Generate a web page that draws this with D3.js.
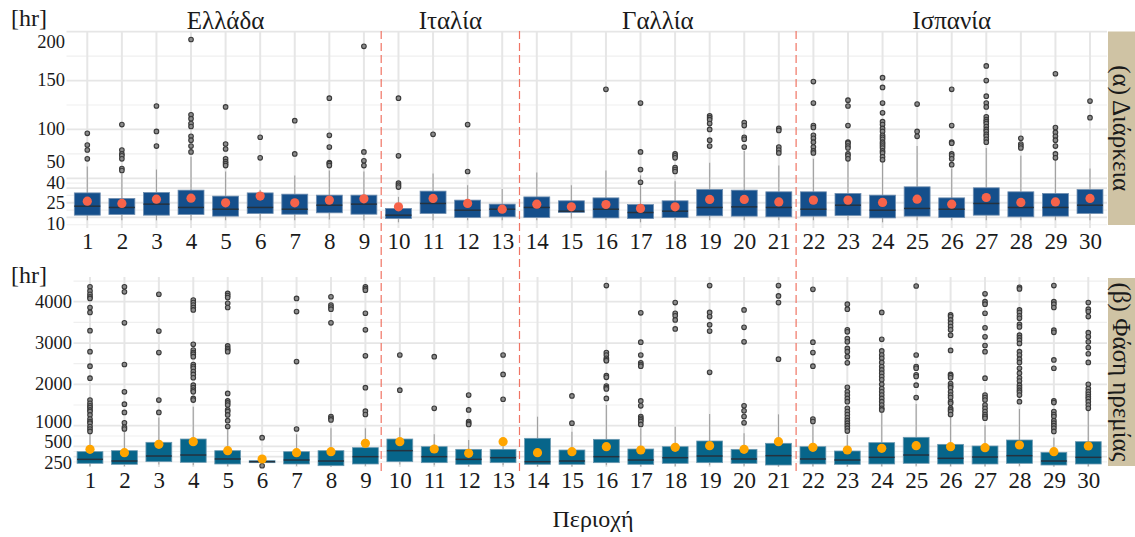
<!DOCTYPE html>
<html>
<head>
<meta charset="utf-8">
<script src="https://cdn.jsdelivr.net/npm/d3@7"></script>
<style>
  body { margin: 0; background: #ffffff; }
  svg { display: block; }
  text { font-family: "Liberation Serif", "DejaVu Serif", serif; fill: #1a1a1a; }
</style>
</head>
<body>
<svg id="chart" width="1135" height="537"></svg>
<script>
// ---- categories -------------------------------------------------------
const regions = ["1","2","3","4","5","6","7","8","9","10","11","12","13","14","15",
                 "16","17","18","19","20","21","22","23","24","25","26","27","28","29","30"];
const countryNames = ["Ελλάδα", "Ιταλία", "Γαλλία", "Ισπανία"];
const countryFirst = ["1", "10", "14", "22"];
const countryLast  = ["9", "13", "21", "30"];

// ---- (α) duration [hr] -------------------------------------------------
const durTicks = [10, 25, 40, 50, 100, 150, 200];
const durLow  = [7,7,7,7,7,7,7,8,7,5, 7,7,7,7,9,7,5,7,7,7, 7,7,7,5,7,7,7,7,7,7];
const durQ1   = [12.3,13,12.3,13,11.3,14,13.3,14.7,13.3,8.9, 14,9.9,10.6,9.9,15,9.5,8.9,9.9,11.6,11.3,
                 10.6,11.3,12,9.5,11.3,9.9,12.3,10.6,11.3,14];
const durMed  = [21.5,20.2,23.6,20.2,18.4,20.2,18.4,22.5,23.6,12.3, 24.3,17.4,18.4,20.2,16.4,18.4,15,16.4,20.2,20.8,
                 20.2,18.4,22.5,17.4,19.2,18.4,24.3,20.2,20.2,22.5];
const durQ3   = [35.1,29.4,35.5,37.9,31.8,35.1,33.8,32.8,32.8,19.2, 36.9,27.7,23.6,31,27,30,23.2,27,38.6,37.9,
                 36.2,36.2,34.5,32.8,41.3,30,40.3,36.2,34.5,38.6];
const durHigh = [62,55,59,72,57,38,53,58,57,31, 55,43,39,56,43,58,53,47,66,78, 63,70,69,68,83,60,81,73,74,60];
const durMean = [26.6,24.3,28.7,29.7,24.9,31.8,24.9,27.7,29,20.8, 29.4,24.3,18.4,23.6,20.8,23.2,19.2,20.8,28.4,28.4,
                 25.9,27.7,27.7,25.3,28.7,23.6,30.4,25.3,25.9,29.4];
const durOutliers = [
  [96,84,79,70],
  [105,79,75,73,70,60,58],
  [124,98,83],
  [192,115,111,106,103,93,89,83,77],
  [123,85,80,70,67,65,63],
  [92,71],
  [109,75],
  [132,94,82,66,65,63],
  [185,77,68,63],
  [132,73,45,43,41],
  [95],
  [105,57],
  [],
  [],
  [],
  [141],
  [127,77,59,46],
  [75,73,71,61,59,57],
  [114,112,110,106,100,89,83],
  [107,104,92,90,82],
  [101,99,82,79,76],
  [149,127,104,102,94,91,87,82,78,76],
  [130,124,104,87,86,83,81,75,73,70],
  [153,143,127,117,108,105,101,98,94,92,90,87,85,83,81,78,76,72,69],
  [126,98,93],
  [141,104,87,86,75,73,70,64],
  [165,150,134,127,123,113,110,108,106,103,100,98,95,93,90,87],
  [91,85,83,81],
  [157,102,97,93,89,83,75,71],
  [129,112]
];

// ---- (β) rest phase [hr] -----------------------------------------------
const restTicks = [250, 500, 1000, 2000, 3000, 4000];
const restLow  = [20,20,60,40,20,80,30,10,30,60, 40,10,40,10,10,40,10,20,40,30, 10,20,10,20,30,20,20,30,10,20];
const restQ1   = [89,65,129,113,73,105,73,32,73,129, 105,65,105,65,65,105,65,89,105,89, 48,73,65,73,89,73,73,89,48,73];
const restMed  = [185,145,266,290,194,129,169,145,250,395, 250,185,226,129,145,250,169,226,266,194,
                  274,194,169,234,290,210,242,274,145,234];
const restQ3   = [371,395,597,677,395,153,371,395,468,677, 492,427,427,694,411,669,435,492,629,427,
                  573,492,387,589,718,548,508,653,355,613];
const restHigh = [800,850,1200,1460,935,170,790,935,935,952, 790,653,520,1218,855,1500,935,976,1282,815,
                  1274,1016,774,1339,1524,1234,1016,1403,710,1435];
const restMean = [427,347,548,613,395,194,347,371,573,613, 435,331,613,347,371,492,411,476,516,427,
                  613,476,411,452,516,492,468,532,371,508];
const restOutliers = [
  [4360,4260,4180,4120,4080,3860,3740,3300,2790,2440,2150,1620,1540,1480,1440,1380,1340,1260,1160,1100,1060,980,920,860],
  [4360,4240,3490,2480,1820,1520,1320,1070,960,920],
  [4180,3290,2770,1620,1320],
  [4040,3980,3920,3860,3800,2970,2830,2770,2730,2670,2480,2430,2390,2310,2240,2160,1980,1920,1860,1820,1660,1620],
  [4200,4150,4100,3960,3860,2930,2870,2830,2790,1780,1600,1550,1500,1380,1340,1260,1120,980],
  [710,30],
  [4080,3760,2550,920],
  [4120,3920,3870,3820,3490,1220,1180,1140],
  [4360,4320,4280,3720,3320,2690,1920,1350,1270],
  [2710,1860],
  [2670,1420],
  [1740,1380,1100,1060,1030],
  [2710,2240,1640],
  [],
  [1720,1060],
  [4390,2770,2710,2630,2590,2570,2210,2170,1960,1920,1890,1660],
  [3730,3020,2710,2520,2480,2440,1600,1480,1220,1180,1140,1100,1030],
  [3980,3720,3660,3560,3340],
  [4390,3740,3640,3440,3290,2290],
  [3800,3380,3030,1480,1360,1220,1070],
  [4390,4140,3980,2610],
  [4300,3020,2770,2440,1160,1100],
  [3940,3820,3320,3270,3110,3030,2870,2790,2670,2520,1930,1820,1740,1660,1580,1420,1340,1270,1190,1120,1060,1000,940,870],
  [3740,3090,2810,2710,2630,2530,2430,2350,2270,2190,2110,2000,1900,1820,1740,1660,1580,1500,1420,1380],
  [4380,2710,2430,2390,2230,2190,1980,1680],
  [3680,3640,3560,3480,3400,3320,3190,2820,2240,2210,2160,2020,1960,1920,1820,1740,1680,1580,1540,1420,1380,1340,1270],
  [4190,4000,3940,3720,3370,3150,2940,2790,2150,1740,1680,1620,1500,1420,1340,1270,1220,1180],
  [4350,4310,3800,3740,3660,3600,3450,3390,3190,3130,3070,2990,2790,2710,2610,2530,2390,2270,2160,2080,1980,1920,1860,1810,1740,1580],
  [4390,4000,3940,3860,3310,3260,2590,2390,1600,1560,1340,1270,1220,1120,1060,1000,940,860],
  [3980,3820,3760,3640,3250,3150,3030,2890,2740,2530,2000,1900,1820,1760,1700,1650,1580,1500,1420]
];

// ---- drawing -----------------------------------------------------------
const svg = d3.select("#chart");
const gridMajor = "#e6e6e6", gridMinor = "#efefef";
const stripFill = "#cfc3a4";
const yLabelSize = 18.5, yLabelGap = 20.5;

// Spread label centres (sorted top to bottom) so neighbours keep a minimum gap,
// merging crowded labels into clusters centred on their ideal positions.
function spreadLabels(ideal, gap, lo, hi) {
  const clusters = [];
  ideal.forEach(v => {
    clusters.push({ n: 1, mean: v });
    while (clusters.length > 1) {
      const b = clusters[clusters.length - 1], a = clusters[clusters.length - 2];
      const aEnd = a.mean + (a.n - 1) * gap / 2;
      const bStart = b.mean - (b.n - 1) * gap / 2;
      if (bStart - aEnd >= gap) break;
      const n = a.n + b.n;
      clusters.splice(-2, 2, { n, mean: (a.mean * a.n + b.mean * b.n) / n });
    }
  });
  const pos = [];
  clusters.forEach(c => { for (let k = 0; k < c.n; k++) pos.push(c.mean - (c.n - 1) * gap / 2 + k * gap); });
  for (let i = 0; i < pos.length; i++) pos[i] = Math.max(pos[i], i ? pos[i - 1] + gap : lo);
  for (let i = pos.length - 1; i >= 0; i--) pos[i] = Math.min(pos[i], i < pos.length - 1 ? pos[i + 1] - gap : hi);
  return pos;
}

function drawPanel(p) {
  const g = svg.append("g");
  const x = d3.scalePoint().domain(regions).range(p.xRange);
  const y = d3.scaleLinear().domain(p.yDomain).range(p.yRange);
  const [top, bottom] = p.box;

  // horizontal gridlines: majors at the ticks, minors half-way between
  const step0 = p.ticks[1] - p.ticks[0];
  const stepN = p.ticks[p.ticks.length - 1] - p.ticks[p.ticks.length - 2];
  const minors = d3.pairs(p.ticks).map(([a, b]) => (a + b) / 2)
    .concat([p.ticks[0] - step0 / 2, p.ticks[p.ticks.length - 1] + stepN / 2])
    .filter(v => y(v) >= top && y(v) <= bottom);
  g.selectAll("line.minor").data(minors).join("line")
    .attr("x1", p.left).attr("x2", p.right)
    .attr("y1", d => y(d)).attr("y2", d => y(d))
    .attr("stroke", gridMinor).attr("stroke-width", 1.2);
  g.selectAll("line.major").data(p.ticks).join("line")
    .attr("x1", p.left).attr("x2", p.right)
    .attr("y1", d => y(d)).attr("y2", d => y(d))
    .attr("stroke", gridMajor).attr("stroke-width", 1.8);
  g.selectAll("line.vgrid").data(regions).join("line")
    .attr("x1", d => x(d)).attr("x2", d => x(d))
    .attr("y1", top).attr("y2", bottom)
    .attr("stroke", gridMajor).attr("stroke-width", 2);

  // boxplots
  const bw = x.step() * 0.75;
  const rows = regions.map((r, i) => ({
    r, lo: p.low[i], q1: p.q1[i], med: p.med[i], q3: p.q3[i], hi: p.high[i],
    mean: p.mean[i], out: p.outliers[i]
  }));
  const bx = g.selectAll("g.box").data(rows).join("g").attr("class", "box");
  bx.append("line")
    .attr("x1", d => x(d.r)).attr("x2", d => x(d.r))
    .attr("y1", d => y(d.q3)).attr("y2", d => y(d.hi))
    .attr("stroke", "#a0a0a0").attr("stroke-width", 1.1);
  bx.append("line")
    .attr("x1", d => x(d.r)).attr("x2", d => x(d.r))
    .attr("y1", d => y(d.q1)).attr("y2", d => y(d.lo))
    .attr("stroke", "#a0a0a0").attr("stroke-width", 1.1);
  bx.append("rect")
    .attr("x", d => x(d.r) - bw / 2).attr("width", bw)
    .attr("y", d => y(d.q3)).attr("height", d => y(d.q1) - y(d.q3))
    .attr("fill", p.boxFill).attr("stroke", p.boxStroke).attr("stroke-width", 0.8);
  bx.append("line")
    .attr("x1", d => x(d.r) - bw / 2).attr("x2", d => x(d.r) + bw / 2)
    .attr("y1", d => y(d.med)).attr("y2", d => y(d.med))
    .attr("stroke", "#24323f").attr("stroke-width", 1.5);
  bx.selectAll("circle.out").data(d => d.out.map(v => ({ r: d.r, v }))).join("circle")
    .attr("cx", d => x(d.r)).attr("cy", d => y(d.v)).attr("r", 2.3)
    .attr("fill", "#8c8c8c").attr("stroke", "#3a3a3a").attr("stroke-width", 1.1);
  bx.append("circle")
    .attr("cx", d => x(d.r)).attr("cy", d => y(d.mean)).attr("r", 4.6)
    .attr("fill", p.meanFill);

  // y axis
  const ya = g.append("g").attr("transform", `translate(${p.labelX},0)`)
    .call(d3.axisLeft(y).tickValues(p.ticks).tickSize(0).tickPadding(0).tickFormat(d3.format("d")));
  ya.select(".domain").remove();
  ya.selectAll("text").attr("font-size", yLabelSize).attr("font-family", "Liberation Serif").attr("fill", "#1a1a1a");
  const ticks = ya.selectAll(".tick").nodes()
    .map(n => ({ n, pos: y(d3.select(n).datum()) }))
    .sort((a, b) => a.pos - b.pos);
  const spread = spreadLabels(ticks.map(t => t.pos), yLabelGap, top + 11, bottom - 4);
  ticks.forEach((t, i) => d3.select(t.n).attr("transform", `translate(0,${spread[i]})`));

  // x axis
  const xa = g.append("g").attr("transform", `translate(0,${bottom})`)
    .call(d3.axisBottom(x).tickSize(0).tickPadding(5));
  xa.select(".domain").remove();
  xa.selectAll("text").attr("font-size", 23).attr("font-family", "Liberation Serif").attr("fill", "#1a1a1a");

  // unit label
  g.append("text").attr("x", 11).attr("y", p.unitY).attr("font-size", 24).text("[hr]");

  // facet strip
  svg.append("rect").attr("x", p.stripX).attr("y", p.stripBox[0])
    .attr("width", 1135 - p.stripX).attr("height", p.stripBox[1] - p.stripBox[0]).attr("fill", stripFill);
  svg.append("text")
    .attr("transform", `translate(${(p.stripX + 1135) / 2},${(p.stripBox[0] + p.stripBox[1]) / 2}) rotate(90)`)
    .attr("text-anchor", "middle").attr("dominant-baseline", "central")
    .attr("font-size", 25).text(p.strip);

  return x;
}

const xTop = drawPanel({
  left: 66.5, right: 1107, box: [31, 228], xRange: [87.3, 1090],
  yDomain: [0, 200], yRange: [227.2, 31.7], ticks: durTicks, labelX: 65,
  low: durLow, q1: durQ1, med: durMed, q3: durQ3, high: durHigh, mean: durMean, outliers: durOutliers,
  boxFill: "#154f8b", boxStroke: "#6f8eb0", meanFill: "#f7634a",
  unitY: 26, strip: "(α) Διάρκεια", stripX: 1108, stripBox: [31.5, 225]
});

drawPanel({
  left: 73.5, right: 1107, box: [277, 467], xRange: [90, 1088.3],
  yDomain: [0, 4000], yRange: [467, 301.7], ticks: restTicks, labelX: 72,
  low: restLow, q1: restQ1, med: restMed, q3: restQ3, high: restHigh, mean: restMean, outliers: restOutliers,
  boxFill: "#07658a", boxStroke: "#6a98b0", meanFill: "#ffa500",
  unitY: 283, strip: "(β) Φάση ηρεμίας", stripX: 1108, stripBox: [278, 466]
});

// country separators
const sepX = countryLast.slice(0, -1).map((r, i) => (xTop(r) + xTop(countryFirst[i + 1])) / 2);
svg.selectAll("line.sep").data(sepX).join("line")
  .attr("x1", d => d).attr("x2", d => d).attr("y1", 31).attr("y2", 475)
  .attr("stroke", "#f07464").attr("stroke-width", 1.2).attr("stroke-dasharray", "8,4");

// country titles
svg.selectAll("text.country").data(countryNames).join("text")
  .attr("x", (d, i) => (xTop(countryFirst[i]) + xTop(countryLast[i])) / 2)
  .attr("y", 29).attr("text-anchor", "middle").attr("font-size", 25).text(d => d);

// x axis title
svg.append("text").attr("x", 593).attr("y", 527).attr("text-anchor", "middle")
  .attr("font-size", 24).text("Περιοχή");
</script>
</body>
</html>
